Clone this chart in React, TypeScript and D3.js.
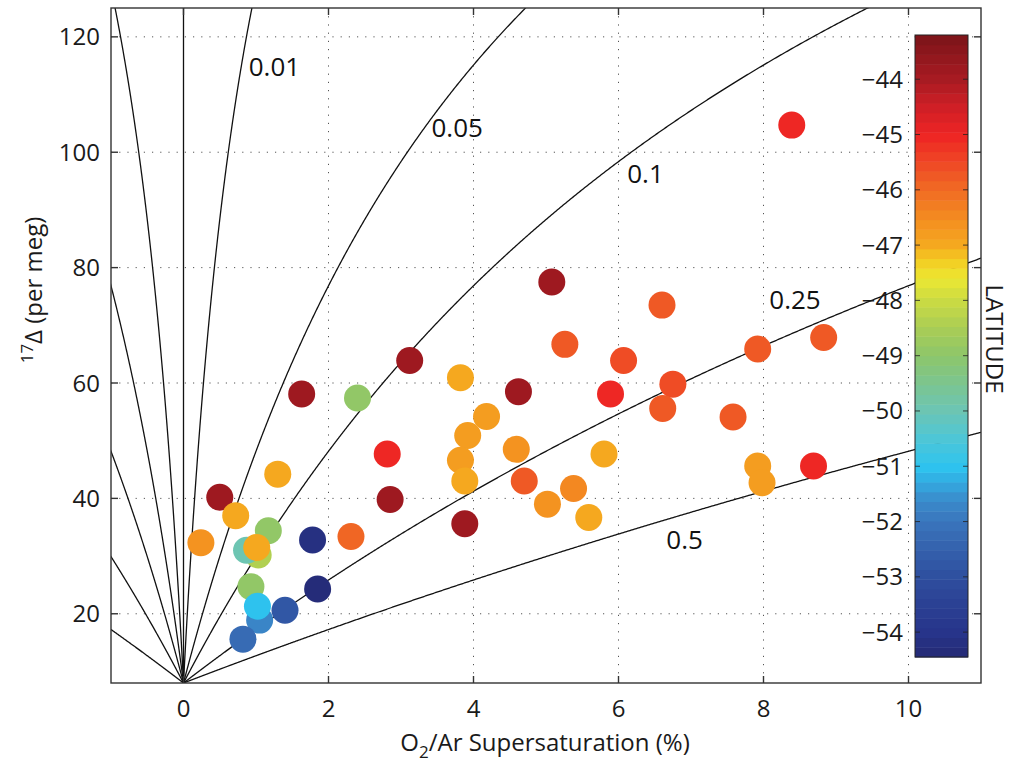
import React, { useEffect, useRef } from 'react';
import * as d3 from 'd3';

// O2/Ar supersaturation (%), 17Δ (per meg) and latitude for each sample
const supersat = [
  8.39, 5.08, 6.60, 3.12, 5.26, 6.07, 7.92, 8.83, 6.75, 5.89, 4.62, 3.82,
  1.63, 2.40, 6.61, 7.58, 4.18, 3.92, 2.81, 4.59, 5.80, 3.82, 3.88, 4.70,
  7.92, 7.98, 8.69, 2.85, 3.88, 5.02, 5.38, 5.59, 2.31, 1.78, 1.85, 0.50,
  1.30, 0.72, 0.24, 1.17, 1.03, 0.87, 1.01, 0.93, 1.05, 1.02, 1.40, 0.82,
];
const delta17 = [
  104.7, 77.5, 73.5, 63.9, 66.7, 63.9, 65.9, 67.9, 59.8, 58.1, 58.5, 60.9,
  58.1, 57.4, 55.6, 54.1, 54.2, 50.9, 47.7, 48.5, 47.7, 46.6, 43.0, 43.0,
  45.6, 42.7, 45.6, 39.8, 35.6, 39.0, 41.7, 36.7, 33.4, 32.8, 24.3, 40.2,
  44.2, 37.0, 32.3, 34.4, 30.2, 31.0, 31.5, 24.7, 18.9, 21.3, 20.6, 15.6,
];
const latitude = [
  -45.1, -43.8, -45.8, -43.9, -45.8, -45.5, -45.7, -45.7, -45.6, -45.05, -43.8, -46.9,
  -43.8, -49.0, -45.8, -45.8, -46.8, -46.8, -45.1, -46.6, -47.0, -46.8, -46.9, -45.8,
  -46.8, -46.8, -45.1, -43.8, -43.9, -46.6, -46.5, -47.0, -45.9, -54.2, -54.3, -43.8,
  -47.0, -47.0, -46.7, -49.0, -48.4, -50.0, -47.0, -49.0, -51.8, -51.0, -52.7, -52.3,
];

// mixing curves: 17Δ = eq + (bio - eq) * s / (s + ratio)
const deltaEq = 8;
const deltaBio = 249;
const rightRatios = [0.01, 0.05, 0.1, 0.25, 0.5];
const leftRatios = [0.01, 0.025, 0.05, 0.1, 0.25];
const curveLabels = ['0.01', '0.05', '0.1', '0.25', '0.5'];
const labelX = [0.9, 3.42, 6.12, 8.08, 6.66];
const labelY = [113.2, 102.7, 94.7, 72.8, 31.3];

const xTicks = [0, 2, 4, 6, 8, 10];
const yTicks = [20, 40, 60, 80, 100, 120];
const latTicks = [-44, -45, -46, -47, -48, -49, -50, -51, -52, -53, -54];
const latRange = [-54.45, -43.2];

const cmapStops = [
  -54.45, -54.0, -53.5, -53.0, -52.5, -52.0, -51.6, -51.3, -51.0, -50.5, -50.0, -49.5,
  -49.0, -48.5, -48.0, -47.6, -47.3, -47.0, -46.5, -46.0, -45.5, -45.0, -44.5, -44.0, -43.2,
];
const cmapColors = [
  '#252a75', '#27348a', '#2b4194', '#2f4f9f', '#3461ad', '#3a75bc', '#3a8ccc', '#33a9e0',
  '#2ec4ef', '#4ec6d6', '#6cc5b4', '#7cc58f', '#8dc66b', '#aacd55', '#cadb43', '#ece732',
  '#f3cf23', '#f5a91f', '#f38b21', '#f06b24', '#ef4725', '#ee2424', '#cf1f26', '#a81b22',
  '#7b1419',
];
const nBands = 64;

const FONT = '"Open Sans", sans-serif';

const App = () => {
  const ref = useRef<SVGSVGElement>(null);

  useEffect(() => {
    const svg = d3.select(ref.current);
    svg.selectAll('*').remove();

    const left = 111, right = 981, top = 8, bottom = 683;
    const x = d3.scaleLinear().domain([-1, 11]).range([left, right]);
    const y = d3.scaleLinear().domain([8, 125]).range([bottom, top]);

    const cmap = d3.scaleLinear<string>().domain(cmapStops).range(cmapColors)
      .interpolate(d3.interpolateRgb).clamp(true);
    const bandStep = (latRange[1] - latRange[0]) / nBands;
    const bandColor = (v: number) => {
      let i = Math.floor((v - latRange[0]) / bandStep);
      i = Math.max(0, Math.min(nBands - 1, i));
      return cmap(latRange[0] + (i + 0.5) * bandStep);
    };

    svg.append('defs').append('clipPath').attr('id', 'plot-clip')
      .append('rect').attr('x', left).attr('y', top)
      .attr('width', right - left).attr('height', bottom - top);

    // dotted grid
    const grid = svg.append('g').attr('stroke', '#555').attr('stroke-width', 1)
      .attr('stroke-dasharray', '1.2 7');
    grid.selectAll('.gx').data(xTicks.filter(d => d !== 0)).enter().append('line')
      .attr('x1', d => x(d)).attr('x2', d => x(d)).attr('y1', top).attr('y2', bottom);
    grid.selectAll('.gy').data(yTicks).enter().append('line')
      .attr('y1', d => y(d)).attr('y2', d => y(d)).attr('x1', left).attr('x2', right);

    // mixing curves
    const curves = svg.append('g').attr('clip-path', 'url(#plot-clip)')
      .attr('fill', 'none').attr('stroke', '#111').attr('stroke-width', 1.3);
    const line = d3.line<[number, number]>().x(d => x(d[0])).y(d => y(d[1]));
    const samples = d3.range(0, 1101).map(i => (i / 1100) ** 2 * 11);
    const curveFn = (xv: number, r: number) => {
      const s = Math.abs(xv) / 100;
      return deltaEq + (deltaBio - deltaEq) * s / (s + r);
    };
    rightRatios.forEach(r => {
      curves.append('path').attr('d', line(samples.map(v => [v, curveFn(v, r)])));
    });
    leftRatios.forEach(r => {
      curves.append('path').attr('d', line(samples.filter(v => v <= 1.05).map(v => [-v, curveFn(v, r)])));
    });
    curves.append('line').attr('x1', x(0)).attr('x2', x(0)).attr('y1', y(8)).attr('y2', y(125));

    // curve labels
    svg.append('g').selectAll('text').data(curveLabels).enter().append('text')
      .attr('x', (d, i) => x(labelX[i])).attr('y', (d, i) => y(labelY[i]))
      .attr('font-family', FONT).attr('font-size', 26).attr('fill', '#111')
      .text(d => d);

    // points
    svg.append('g').attr('clip-path', 'url(#plot-clip)').selectAll('circle')
      .data(supersat).enter().append('circle')
      .attr('cx', d => x(d)).attr('cy', (d, i) => y(delta17[i])).attr('r', 13.5)
      .attr('fill', (d, i) => bandColor(latitude[i]));

    // colorbar
    const cbL = 915, cbR = 968;
    const yc = d3.scaleLinear().domain(latRange).range([657, 35]);
    const cb = svg.append('g');
    cb.selectAll('rect').data(d3.range(nBands)).enter().append('rect')
      .attr('x', cbL).attr('width', cbR - cbL)
      .attr('y', i => yc(latRange[0] + (i + 1) * bandStep))
      .attr('height', yc(latRange[0]) - yc(latRange[0] + bandStep) + 0.5)
      .attr('fill', i => cmap(latRange[0] + (i + 0.5) * bandStep));
    cb.append('rect').attr('x', cbL).attr('y', yc(latRange[1]))
      .attr('width', cbR - cbL).attr('height', yc(latRange[0]) - yc(latRange[1]))
      .attr('fill', 'none').attr('stroke', '#222').attr('stroke-width', 1);
    latTicks.forEach(t => {
      cb.append('line').attr('x1', cbL).attr('x2', cbL + 5).attr('y1', yc(t)).attr('y2', yc(t))
        .attr('stroke', '#222').attr('stroke-opacity', 0.8);
      cb.append('line').attr('x1', cbR - 5).attr('x2', cbR).attr('y1', yc(t)).attr('y2', yc(t))
        .attr('stroke', '#222').attr('stroke-opacity', 0.8);
      cb.append('text').attr('x', 903).attr('y', yc(t) + 8.5).attr('text-anchor', 'end')
        .attr('font-family', FONT).attr('font-size', 24).attr('fill', '#1a1a1a')
        .text(`\u2212${Math.abs(t)}`);
    });
    cb.append('text').attr('transform', `translate(986,339) rotate(90)`)
      .attr('text-anchor', 'middle').attr('font-family', FONT).attr('font-size', 24)
      .attr('fill', '#1a1a1a').text('LATITUDE');

    // axes box and ticks
    const ax = svg.append('g').attr('stroke', '#333').attr('stroke-width', 1.4);
    ax.append('rect').attr('x', left).attr('y', top).attr('width', right - left)
      .attr('height', bottom - top).attr('fill', 'none');
    xTicks.forEach(t => {
      ax.append('line').attr('x1', x(t)).attr('x2', x(t)).attr('y1', bottom).attr('y2', bottom - 7);
      ax.append('line').attr('x1', x(t)).attr('x2', x(t)).attr('y1', top).attr('y2', top + 7);
    });
    yTicks.forEach(t => {
      ax.append('line').attr('x1', left).attr('x2', left + 7).attr('y1', y(t)).attr('y2', y(t));
      ax.append('line').attr('x1', right).attr('x2', right - 7).attr('y1', y(t)).attr('y2', y(t));
    });

    const labels = svg.append('g').attr('font-family', FONT).attr('font-size', 24).attr('fill', '#1a1a1a');
    labels.selectAll('.xt').data(xTicks).enter().append('text')
      .attr('x', d => x(d)).attr('y', 717).attr('text-anchor', 'middle').text(d => d);
    labels.selectAll('.yt').data(yTicks).enter().append('text')
      .attr('x', 100).attr('y', d => y(d) + 8.5).attr('text-anchor', 'end').text(d => d);

    const xl = labels.append('text').attr('x', 545).attr('y', 751).attr('text-anchor', 'middle');
    xl.append('tspan').text('O');
    xl.append('tspan').attr('font-size', 17).attr('dy', 7).text('2');
    xl.append('tspan').attr('dy', -7).text('/Ar Supersaturation (%)');

    const yl = labels.append('text').attr('transform', 'translate(42,290) rotate(-90)')
      .attr('text-anchor', 'middle');
    yl.append('tspan').attr('font-size', 17).attr('dy', -9).text('17');
    yl.append('tspan').attr('dy', 9).text('\u0394 (per meg)');
  }, []);

  return (
    <svg ref={ref} width={1013} height={765}
      style={{ position: 'absolute', left: 0, top: 0, background: '#fff' }} />
  );
};

export default App;
